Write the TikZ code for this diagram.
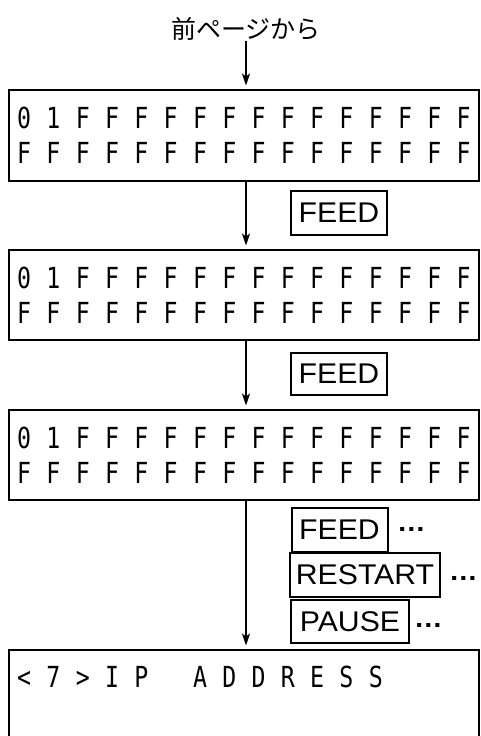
\documentclass[tikz,border=0pt]{standalone}
\usepackage{fontspec}
\setmainfont{Liberation Sans}
\newfontfamily\lcdfont[FakeStretch=0.8]{DejaVu Sans Mono}
\newfontfamily\btnfont[FakeStretch=1.06]{Liberation Sans}
\newfontfamily\jpfont{Noto Sans CJK JP}
\usetikzlibrary{arrows.meta}
\makeatletter
\newcommand\lcdcells[1]{\lcd@loop#1\relax}
\def\lcd@loop#1{\ifx#1\relax\else\makebox[29.3pt]{#1}\expandafter\lcd@loop\fi}
\makeatother
\tikzset{
  lcdbox/.style={draw, line width=2pt, inner sep=0pt, minimum width=470pt},
  lcdrow/.style={anchor=west, inner sep=0pt, font=\lcdfont\fontsize{29}{29}\selectfont},
  btn/.style={draw, line width=2pt, inner sep=0pt, font=\btnfont\fontsize{28.5}{28.5}\selectfont},
  dotsmark/.style={anchor=base, inner sep=0pt, font=\btnfont\bfseries\fontsize{27}{27}\selectfont},
  arr/.style={-{Stealth[length=12pt,width=8pt,inset=3pt]}, line width=1.6pt, shorten >=3.5pt}
}
\begin{document}
\begin{tikzpicture}[x=1pt,y=-1pt]
\useasboundingbox (0,0) rectangle (480,736);
\clip (0,0) rectangle (480,736);
\fill[white] (0,0) rectangle (480,736);
\coordinate (ax) at (246,0);
\node[inner sep=0pt, font=\jpfont\fontsize{25}{25}\selectfont] (from) at (246,29) {前ページから};
% boxes
\node[lcdbox, minimum height=91pt] (b1) at (244,135.5) {};
\node[lcdbox, minimum height=90pt] (b2) at (244,295) {};
\node[lcdbox, minimum height=90pt] (b3) at (244,455) {};
\node[lcdbox, minimum height=150pt] (b4) at (244,725) {};
% rows
\node[lcdrow] (r11) at (9.35,117.5) {\lcdcells{01FFFFFFFFFFFFFF}};
\node[lcdrow] (r12) at (9.35,153) {\lcdcells{FFFFFFFFFFFFFFFF}};
\node[lcdrow] (r21) at (9.35,278) {\lcdcells{01FFFFFFFFFFFFFF}};
\node[lcdrow] (r22) at (9.35,313) {\lcdcells{FFFFFFFFFFFFFFFF}};
\node[lcdrow] (r31) at (9.35,438) {\lcdcells{01FFFFFFFFFFFFFF}};
\node[lcdrow] (r32) at (9.35,473) {\lcdcells{FFFFFFFFFFFFFFFF}};
\node[lcdrow] (r41) at (9.35,677) {\lcdcells{<7>IP~ADDRESS}};
% buttons
\node[btn, minimum width=96pt, minimum height=44pt] (f1) at (339,213) {FEED};
\node[btn, minimum width=96pt, minimum height=42pt] (f2) at (339,374) {FEED};
\node[btn, minimum width=96pt, minimum height=44pt] (f3) at (339.5,529.5) {FEED};
\node[btn, minimum width=150pt, minimum height=44pt] (rs) at (365,575) {RESTART};
\node[btn, minimum width=118pt, minimum height=43pt] (ps) at (350,621.5) {PAUSE};
\node[dotsmark] (d1) at (411.5,531.5) {…};
\node[dotsmark] (d2) at (463.5,580.5) {…};
\node[dotsmark] (d3) at (428.5,627.5) {…};
% arrows
\draw[arr] (from.south) -- (b1.north -| ax);
\draw[arr] (b1.south -| ax) -- (b2.north -| ax);
\draw[arr] (b2.south -| ax) -- (b3.north -| ax);
\draw[arr] (b3.south -| ax) -- (b4.north -| ax);
\end{tikzpicture}
\end{document}
